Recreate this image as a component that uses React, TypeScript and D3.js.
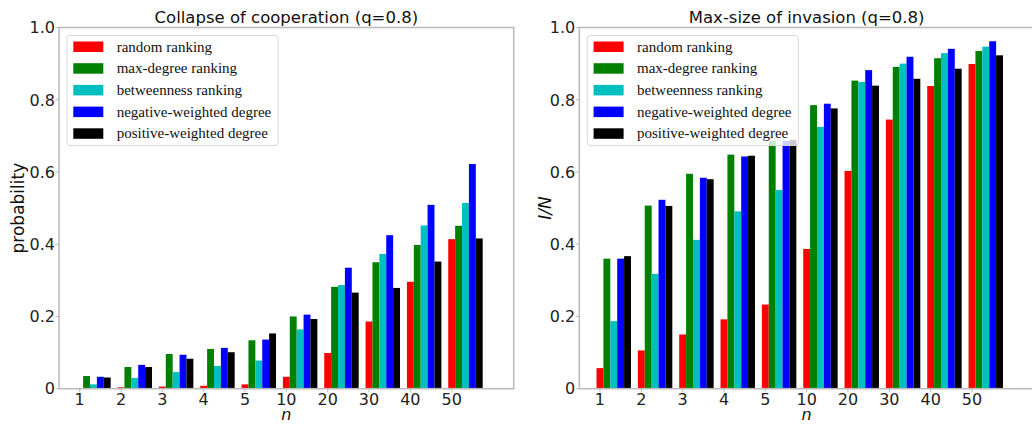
import React from 'react'
import * as d3 from 'd3'

// x categories (n)
const nLabels = ['1', '2', '3', '4', '5', '10', '20', '30', '40', '50']
const seriesNames = [
  'random ranking',
  'max-degree ranking',
  'betweenness ranking',
  'negative-weighted degree',
  'positive-weighted degree',
]
const seriesColors = ['#ff0000', '#008000', '#00bfbf', '#0000ff', '#000000']
const yTicks = [0, 0.2, 0.4, 0.6, 0.8, 1.0]

// left panel: collapse of cooperation (probability)
const collapseRandom = [0, 0.004, 0.006, 0.008, 0.012, 0.033, 0.099, 0.186, 0.296, 0.414]
const collapseMaxDeg = [0.035, 0.06, 0.096, 0.11, 0.134, 0.2, 0.282, 0.35, 0.398, 0.451]
const collapseBetween = [0.012, 0.03, 0.046, 0.063, 0.078, 0.164, 0.287, 0.373, 0.452, 0.514]
const collapseNegW = [0.033, 0.066, 0.094, 0.113, 0.136, 0.205, 0.335, 0.425, 0.509, 0.622]
const collapsePosW = [0.031, 0.06, 0.083, 0.101, 0.153, 0.193, 0.266, 0.279, 0.352, 0.416]

// right panel: max-size of invasion (I/N)
const invRandom = [0.057, 0.106, 0.15, 0.192, 0.233, 0.387, 0.603, 0.745, 0.838, 0.899]
const invMaxDeg = [0.36, 0.507, 0.595, 0.648, 0.686, 0.785, 0.853, 0.891, 0.915, 0.935]
const invBetween = [0.187, 0.318, 0.412, 0.491, 0.55, 0.725, 0.849, 0.9, 0.929, 0.947]
const invNegW = [0.36, 0.523, 0.584, 0.643, 0.686, 0.789, 0.882, 0.919, 0.941, 0.962]
const invPosW = [0.367, 0.506, 0.58, 0.645, 0.689, 0.776, 0.839, 0.858, 0.886, 0.923]

const W = 1032, H = 424
const top = 27.5, bottom = 388.7
const barW = 1 / 6
const sans = 'DejaVu Sans'
const spine = '#bcbcbc'

type PanelProps = {
  left: number
  title: string
  ylabel: string
  ylabelX: number
  italicY: boolean
  series: number[][]
}

const Panel = ({ left, title, ylabel, ylabelX, italicY, series }: PanelProps) => {
  const right = left + 454.7
  const x = d3.scaleLinear().domain([-0.5, 10.5]).range([left, right])
  const y = d3.scaleLinear().domain([0, 1]).range([bottom, top])
  const fmt = (v: number) => (v === 0 ? '0' : d3.format('.1f')(v))
  const lx = left + 8, ly = top + 8

  return (
    <g>
      {series.map((vals, s) =>
        vals.map((v, i) => (
          <rect
            key={s + '-' + i}
            x={x(i + (s - 0.5) * barW)}
            y={y(v)}
            width={x(barW) - x(0)}
            height={y(0) - y(v)}
            fill={seriesColors[s]}
          />
        ))
      )}
      {/* spines */}
      <rect x={left} y={top} width={right - left} height={bottom - top}
        fill="none" stroke={spine} strokeWidth={1.6} />
      {yTicks.map(t => (
        <g key={'y' + t}>
          <line x1={left - 3.5} x2={left} y1={y(t)} y2={y(t)} stroke={spine} />
          <text x={left - 4} y={y(t)} dy="0.36em" textAnchor="end"
            fontFamily={sans} fontSize={16} fill="#222">{fmt(t)}</text>
        </g>
      ))}
      {nLabels.map((lab, i) => (
        <g key={'x' + lab}>
          <line x1={x(i)} x2={x(i)} y1={bottom} y2={bottom + 3.5} stroke={spine} />
          <text x={x(i)} y={405} textAnchor="middle"
            fontFamily={sans} fontSize={16} fill="#222">{lab}</text>
        </g>
      ))}
      <text x={(left + right) / 2} y={22.5} textAnchor="middle"
        fontFamily={sans} fontSize={16.5} fill="#111">{title}</text>
      <text x={(left + right) / 2} y={420} textAnchor="middle"
        fontFamily={sans} fontSize={16} fontStyle="italic" fill="#111">n</text>
      <text transform={`translate(${ylabelX},${(top + bottom) / 2}) rotate(-90)`}
        textAnchor="middle" fontFamily={sans} fontSize={17}
        fontStyle={italicY ? 'italic' : 'normal'} fill="#111">{ylabel}</text>
      {/* legend */}
      <rect x={lx} y={ly} width={211} height={110} rx={3}
        fill="#fff" fillOpacity={0.8} stroke="#d8d8d8" />
      {seriesNames.map((name, s) => (
        <g key={name}>
          <rect x={lx + 6.3} y={ly + 6 + s * 21.7} width={30} height={10.5}
            fill={seriesColors[s]} />
          <text x={lx + 49.7} y={ly + 16 + s * 21.7}
            fontFamily="Liberation Serif" fontSize={15} fill="#111">{name}</text>
        </g>
      ))}
    </g>
  )
}

const App = () => {
  return (
    <svg width={W} height={H} style={{ position: 'absolute', left: 0, top: 0 }}>
      <rect width={W} height={H} fill="#fff" />
      <Panel left={59} title="Collapse of cooperation (q=0.8)" ylabel="probability"
        ylabelX={24} italicY={false}
        series={[collapseRandom, collapseMaxDeg, collapseBetween, collapseNegW, collapsePosW]} />
      <Panel left={579.3} title="Max-size of invasion (q=0.8)" ylabel="I/N"
        ylabelX={551} italicY={true}
        series={[invRandom, invMaxDeg, invBetween, invNegW, invPosW]} />
    </svg>
  )
}

export default App
